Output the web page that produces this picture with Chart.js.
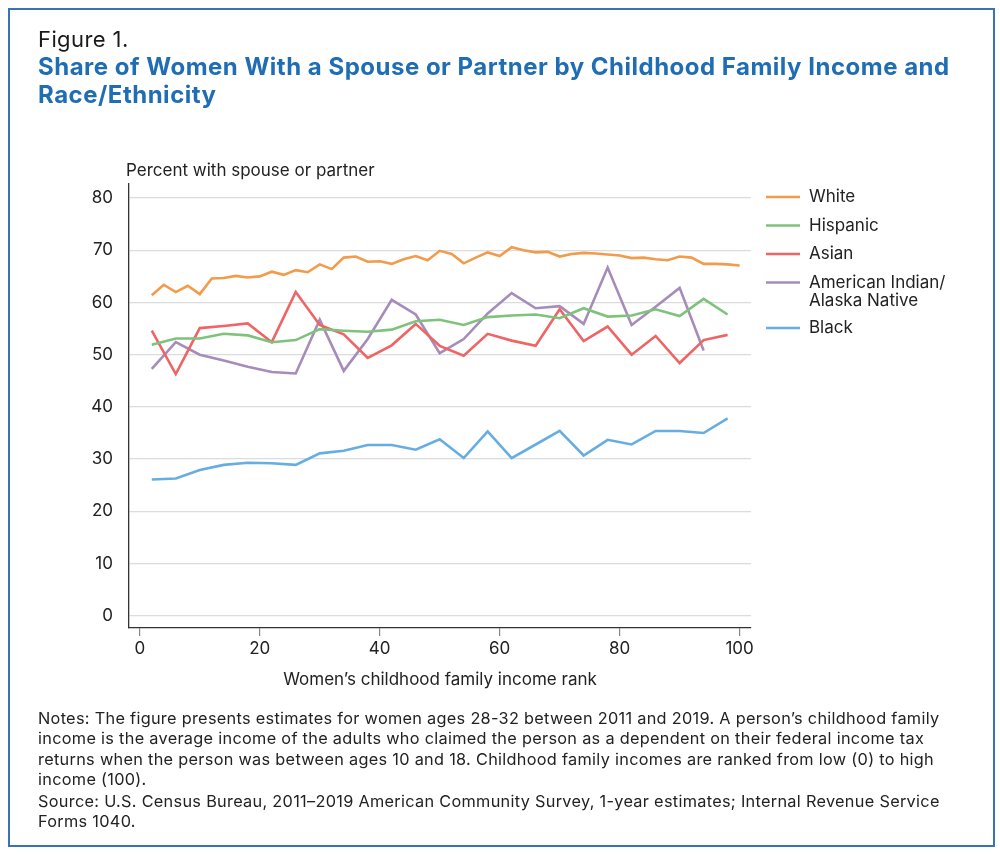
<!DOCTYPE html>
<html>
<head>
<meta charset="utf-8">
<script src="https://cdn.jsdelivr.net/npm/chart.js@4.4.1/dist/chart.umd.min.js"></script>
<style>
html,body{margin:0;padding:0;background:#fff;}
#wrap{position:relative;width:1000px;height:856px;overflow:hidden;background:#fff;}
#frame{position:absolute;left:8px;top:8px;width:987px;height:839px;border:2px solid #3a72b6;box-sizing:border-box;}
#c{position:absolute;left:0;top:0;}
.t{position:absolute;left:38px;white-space:nowrap;font-family:Inter,"Open Sans",sans-serif;color:#1a1a1a;}
#fig{top:26px;font-size:22px;letter-spacing:0.4px;}
#title{top:53px;font-size:24px;font-weight:700;color:#1f6db5;line-height:28px;letter-spacing:0.5px;}
#notes{top:708px;font-size:16.3px;line-height:20.3px;color:#222;letter-spacing:0.3px;}
#notes p{margin:0;}
</style>
</head>
<body>
<div id="wrap">
  <div id="frame"></div>
  <canvas id="c" width="1000" height="856"></canvas>
  <div class="t" id="fig">Figure 1.</div>
  <div class="t" id="title">Share of Women With a Spouse or Partner by Childhood Family Income and<br>Race/Ethnicity</div>
  <div class="t" id="notes">
    <p>Notes: The figure presents estimates for women ages 28-32 between 2011 and 2019. A person’s childhood family<br>income is the average income of the adults who claimed the person as a dependent on their federal income tax<br>returns when the person was between ages 10 and 18. Childhood family incomes are ranked from low (0) to high<br>income (100).</p>
    <p style="margin-top:2px">Source: U.S. Census Bureau, 2011–2019 American Community Survey, 1-year estimates; Internal Revenue Service<br>Forms 1040.</p>
  </div>
</div>
<script>
// ---- data ----
const seriesNames = ["White", "Hispanic", "Asian", "American Indian/\nAlaska Native", "Black"];
const rankStep2 = [2,4,6,8,10,12,14,16,18,20,22,24,26,28,30,32,34,36,38,40,42,44,46,48,50,52,54,56,58,60,62,64,66,68,70,72,74,76,78,80,82,84,86,88,90,92,94,96,98,100];
const rankStep4 = [2,6,10,14,18,22,26,30,34,38,42,46,50,54,58,62,66,70,74,78,82,86,90,94,98];
const rankAIAN  = [2,6,10,14,18,22,26,30,34,38,42,46,50,54,58,62,66,70,74,78,82,86,90,94];
const whiteVals = [61.4,63.4,62.0,63.2,61.6,64.6,64.7,65.1,64.8,65.0,65.9,65.3,66.2,65.8,67.3,66.4,68.6,68.8,67.8,67.9,67.4,68.3,68.9,68.1,69.9,69.3,67.5,68.6,69.6,68.9,70.6,70.0,69.6,69.7,68.8,69.3,69.5,69.4,69.2,69.0,68.5,68.6,68.3,68.1,68.8,68.6,67.4,67.4,67.3,67.1];
const hispanicVals = [51.9,53.1,53.1,54.0,53.7,52.4,52.8,54.9,54.6,54.4,54.8,56.4,56.7,55.7,57.2,57.5,57.7,57.0,58.9,57.3,57.5,58.7,57.4,60.7,57.7];
const asianVals = [54.6,46.3,55.1,55.5,56.0,52.4,62.0,55.7,53.9,49.4,51.8,55.9,51.7,49.8,54.0,52.7,51.7,58.7,52.6,55.4,50.0,53.6,48.4,52.8,53.8];
const aianVals = [47.3,52.4,50.0,48.9,47.7,46.7,46.4,56.7,46.9,53.0,60.5,57.7,50.3,53.0,57.9,61.8,58.9,59.3,55.9,66.7,55.7,59.2,62.8,50.8];
const blackVals = [26.1,26.3,27.9,28.9,29.3,29.2,28.9,31.1,31.6,32.7,32.7,31.8,33.8,30.2,35.3,30.2,32.8,35.4,30.7,33.7,32.8,35.4,35.4,35.0,37.8];
const xTickValues = [0,20,40,60,80,100];
const yTickValues = [0,10,20,30,40,50,60,70,80];
const yTitle = "Percent with spouse or partner";
const xTitle = "Women’s childhood family income rank";
const colors = ["#f29b4b", "#7ec27c", "#ef6464", "#a68cba", "#66ade1"];

const pairs = (xs, ys) => xs.map((x, i) => ({x: x, y: ys[i]}));
const seriesData = [pairs(rankStep2, whiteVals), pairs(rankStep4, hispanicVals), pairs(rankStep4, asianVals), pairs(rankAIAN, aianVals), pairs(rankStep4, blackVals)];

const FONT = 'Inter, "Open Sans", sans-serif';

const extras = {
  id: 'extras',
  afterDraw(chart) {
    const ctx = chart.ctx, a = chart.chartArea;
    ctx.save();
    ctx.fillStyle = '#222';
    ctx.font = '17px ' + FONT;
    ctx.textBaseline = 'middle';
    ctx.textAlign = 'left';
    ctx.fillText(yTitle, a.left - 3, a.top - 13);
    ctx.textAlign = 'center';
    ctx.fillText(xTitle, (a.left + a.right) / 2, a.bottom + 52);
    // legend
    ctx.textAlign = 'left';
    let y = 197;
    chart.data.datasets.forEach(ds => {
      const lines = ds.label.split('\n');
      ctx.strokeStyle = ds.borderColor;
      ctx.lineWidth = 2.5;
      ctx.beginPath();
      ctx.moveTo(a.right + 15, y);
      ctx.lineTo(a.right + 49, y);
      ctx.stroke();
      ctx.fillStyle = '#222';
      lines.forEach((l, i) => ctx.fillText(l, a.right + 58, y + i * 18));
      y += 28.5 + (lines.length - 1) * 17;
    });
    ctx.restore();
  }
};

new Chart(document.getElementById('c'), {
  type: 'line',
  data: {
    datasets: seriesNames.map((n, i) => ({
      label: n, data: seriesData[i], borderColor: colors[i], backgroundColor: colors[i],
      borderWidth: 2.6, pointRadius: 0, tension: 0, fill: false
    }))
  },
  options: {
    responsive: false, animation: false, devicePixelRatio: 1,
    layout: {padding: {left: 79, right: 249, top: 184, bottom: 188}},
    plugins: {legend: {display: false}, tooltip: {enabled: false}},
    scales: {
      x: {
        type: 'linear', min: -1.8, max: 101.9,
        afterBuildTicks: s => { s.ticks = xTickValues.map(v => ({value: v})); },
        afterFit: s => { s.height = 40; },
        grid: {drawOnChartArea: false, drawTicks: true, tickLength: 8, color: '#888', lineWidth: 1.2},
        border: {display: true, color: '#333', width: 1.3},
        ticks: {color: '#222', font: {size: 17, family: FONT}, padding: 3, maxRotation: 0}
      },
      y: {
        type: 'linear', min: -2.35, max: 82.7,
        afterBuildTicks: s => { s.ticks = yTickValues.map(v => ({value: v})); },
        afterFit: s => { s.width = 50; },
        grid: {drawTicks: false, color: '#dcdcdc', lineWidth: 1.3},
        border: {display: true, color: '#333', width: 1.3},
        ticks: {color: '#222', font: {size: 17, family: FONT}, padding: 16}
      }
    }
  },
  plugins: [extras]
});
</script>
</body>
</html>
